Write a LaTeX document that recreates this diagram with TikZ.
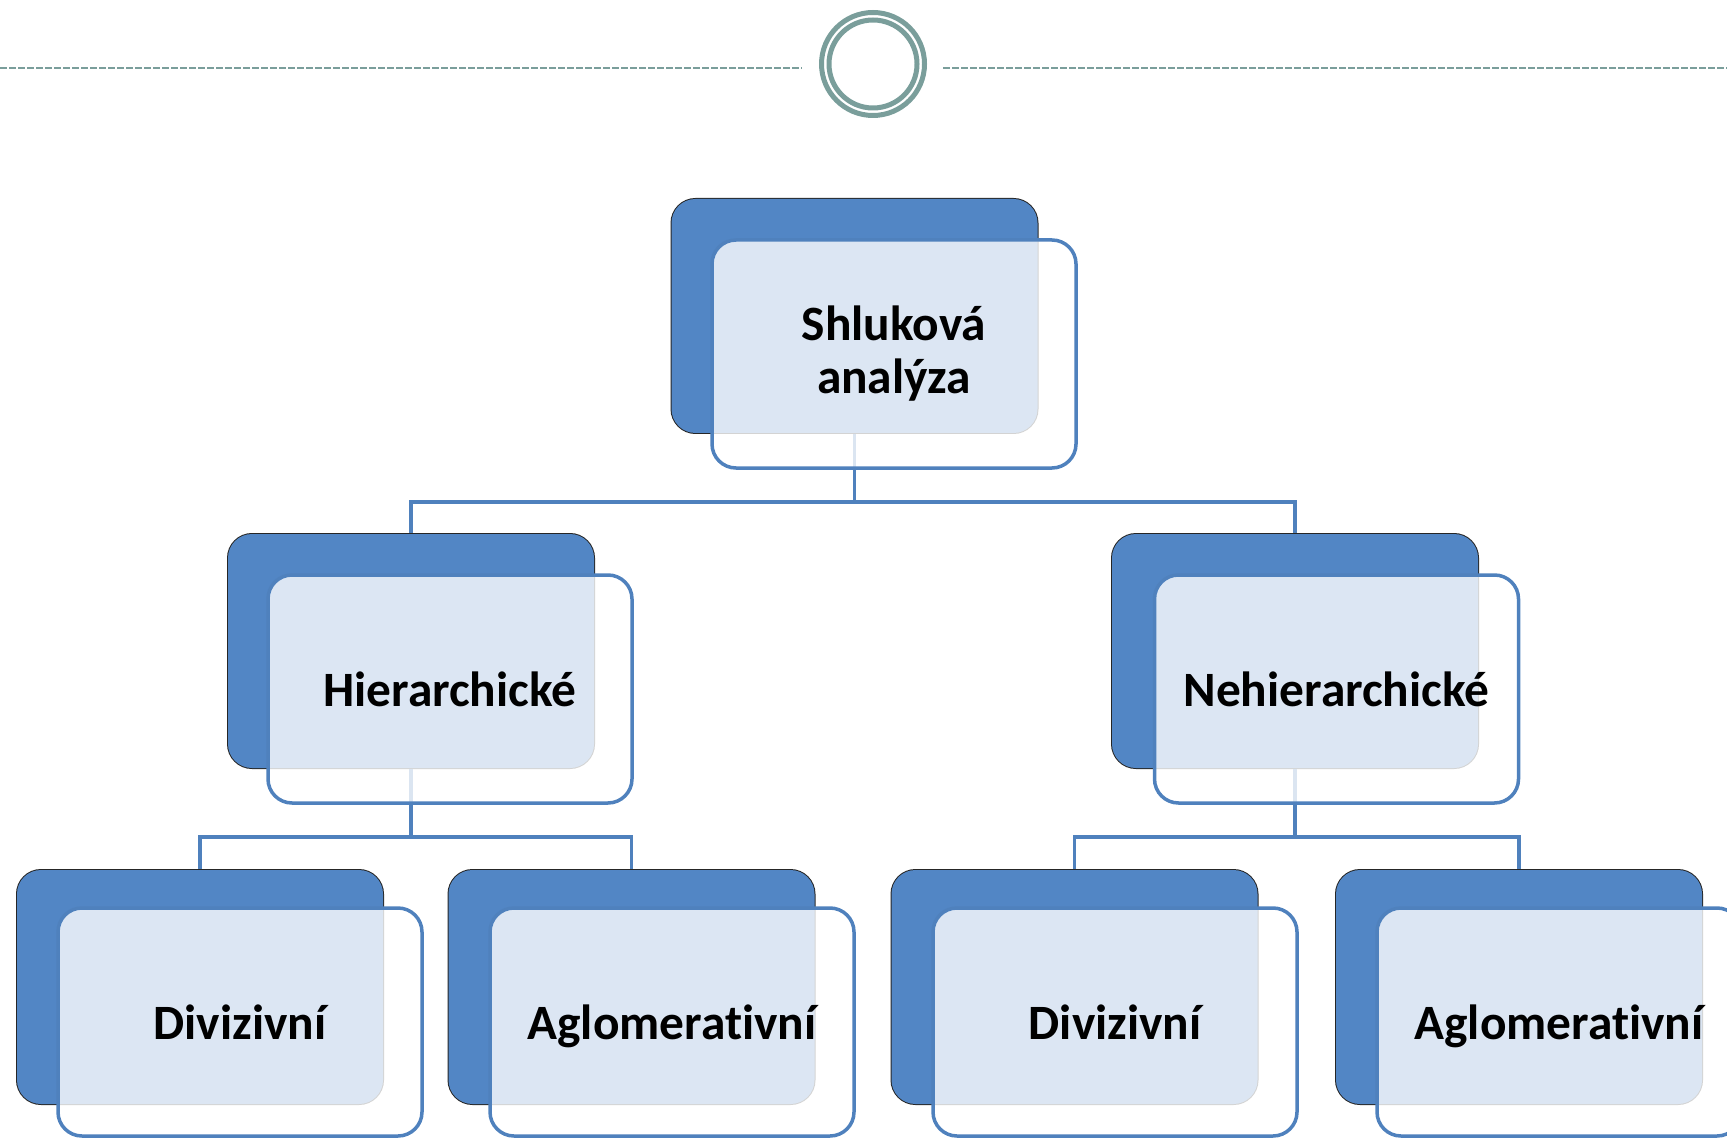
\documentclass[tikz,border=0pt]{standalone}
\usepackage{fontspec}
\setmainfont{Carlito}[Ligatures=NoCommon]
\definecolor{backblue}{RGB}{82,134,197}
\definecolor{frontblue}{RGB}{79,129,189}
\definecolor{teal}{RGB}{122,158,155}
\newcommand{\nodepth}[1]{\raisebox{0pt}[\height][0pt]{#1}}
\tikzset{
  backbox/.style={draw=black!85, line width=1pt, fill=backblue, rounded corners=12pt,
    minimum width=183pt, minimum height=117pt, inner sep=0pt},
  frontbox/.style={draw=frontblue, line width=1.75pt, fill=white, fill opacity=0.8, text opacity=1,
    rounded corners=12pt, minimum width=182pt, minimum height=114pt, inner sep=0pt,
    align=center, font=\fontsize{24.7}{26.5}\selectfont\bfseries},
  conn/.style={draw=frontblue, line width=1.75pt},
  deco/.style={draw=teal, line width=1.2pt}
}
\begin{document}
\begin{tikzpicture}[x=0.5pt,y=-0.5pt]
\useasboundingbox (0,0) rectangle (1727,1138);
\clip (0,0) rectangle (1727,1138);
% header decoration
\node[circle, deco, line width=2.5pt, minimum size=51.5pt, inner sep=0pt] (ringout) at (873,64) {};
\node[circle, deco, line width=2.5pt, minimum size=44pt, inner sep=0pt] (ringin) at (873,64) {};
\coordinate (ll) at (0,68);
\coordinate (lr) at (802,68);
\coordinate (rl) at (943,68);
\coordinate (rr) at (1727,68);
\draw[deco, dash pattern=on 3.3pt off 1.2pt] (ll) -- (lr);
\draw[deco, dash pattern=on 3.3pt off 1.2pt] (rl) -- (rr);
% back boxes
\node[backbox] (topB) at (854.5,316) {};
\node[backbox] (hierB) at (411,651) {};
\node[backbox] (nehB) at (1295,651) {};
\node[backbox] (d1B) at (200,987) {};
\node[backbox] (a1B) at (631.5,987) {};
\node[backbox] (d2B) at (1074.5,987) {};
\node[backbox] (a2B) at (1519,987) {};
% connectors
\draw[conn] (topB.south) -- (topB.south |- 0,502) -| (hierB.north);
\draw[conn] (topB.south |- 0,502) -| (nehB.north);
\draw[conn] (hierB.south) -- (hierB.south |- 0,837) -| (d1B.north);
\draw[conn] (hierB.south |- 0,837) -| (a1B.north);
\draw[conn] (nehB.south) -- (nehB.south |- 0,837) -| (d2B.north);
\draw[conn] (nehB.south |- 0,837) -| (a2B.north);
% redraw back boxes over connector ends
\foreach \n in {topB,hierB,nehB,d1B,a1B,d2B,a2B}{
  \fill[backblue, rounded corners=12pt] ([shift={(1,1)}]\n.north west) rectangle ([shift={(-1,-1)}]\n.south east);
}
% front boxes
\node[frontbox] (topF) at (894,354) {Shluková\\analýza};
\node[frontbox] (hierF) at (450,689) {Hierarchické};
\node[frontbox] (nehF) at (1336.5,689) {Nehierarchické};
\node[frontbox] (d1F) at (240,1022) {Divizivní};
\node[frontbox] (a1F) at (672,1022) {\nodepth{Aglomerativní}};
\node[frontbox] (d2F) at (1115,1022) {Divizivní};
\node[frontbox] (a2F) at (1559,1022) {\nodepth{Aglomerativní}};
\end{tikzpicture}
\end{document}
